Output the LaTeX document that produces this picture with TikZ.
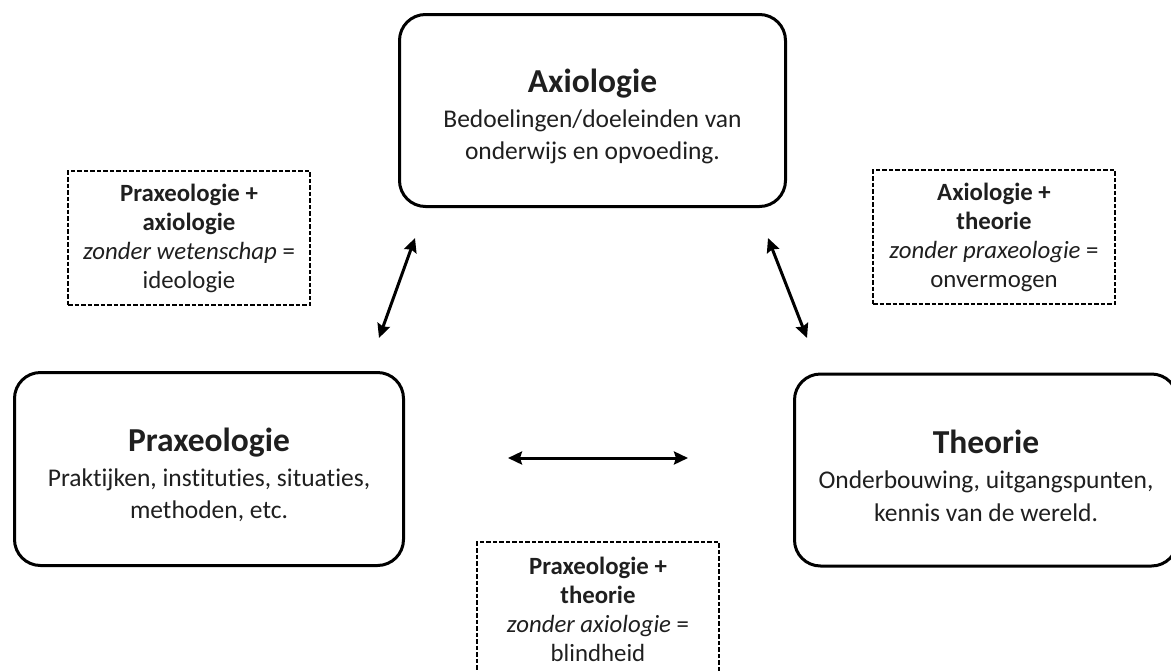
\documentclass[tikz,border=0pt]{standalone}
\usepackage{fontspec}
\setmainfont{Carlito}[Ligatures={NoCommon,NoRare}]
\usepackage{tikz}
\usetikzlibrary{arrows.meta, positioning}
\colorlet{colorText}{black!88}
\tikzset{
  boxMain/.style={draw, rounded corners=26pt, line width=3pt, align=center,
    text=colorText, inner sep=0pt, font=\fontsize{25.5}{32.5}\selectfont},
  boxNote/.style={draw, dash pattern=on 4.5pt off 2pt, line width=2pt, align=center,
    text=colorText, inner sep=0pt, minimum width=242pt, minimum height=134pt,
    font=\fontsize{24.8}{29}\selectfont},
  linkArrow/.style={{Stealth[length=14pt,width=13pt,inset=2pt]}-{Stealth[length=14pt,width=13pt,inset=2pt]}, line width=3pt}
}
\newcommand{\boxTitle}[1]{{\fontsize{33.5}{36}\selectfont\bfseries\rule{0pt}{35pt}#1}}

\begin{document}
\begin{tikzpicture}[x=1pt, y=-1pt]
\useasboundingbox (0,0) rectangle (1171,670);
\node[boxMain, minimum width=386pt, minimum height=192pt] (axio) at (592.5,110.5)
  {\boxTitle{Axiologie}\\[2.5pt]Bedoelingen/doeleinden van\\onderwijs en opvoeding.};
\node[boxMain, minimum width=389pt, minimum height=193pt] (praxeo) at (209,469)
  {\boxTitle{Praxeologie}\\[2.5pt]Praktijken, instituties, situaties,\\methoden, etc.};
\node[boxMain, minimum width=383pt, minimum height=192pt] (theorie) at (986,470)
  {\boxTitle{Theorie}\\[2.5pt]Onderbouwing, uitgangspunten,\\kennis van de wereld.};
% dashed notes
\node[boxNote] (praxAxio) at (189,238)
  {\textbf{Praxeologie +}\\\textbf{axiologie}\\\textit{zonder wetenschap} =\\ideologie};
\node[boxNote] (axioTheorie) at (994,237)
  {\textbf{Axiologie +}\\\textbf{theorie}\\\textit{zonder praxeologie} =\\onvermogen};
\node[boxNote] (praxTheorie) at (598,609)
  {\textbf{Praxeologie +}\\\textbf{theorie}\\\textit{zonder axiologie} =\\blindheid};
% arrow ends
\coordinate (l1) at (379,338);
\coordinate (l2) at (415,238);
\coordinate (r1) at (768,238);
\coordinate (r2) at (807,338);
\coordinate (m1) at (508,458);
\coordinate (m2) at (688,458);
\draw[linkArrow] (l1) -- (l2);
\draw[linkArrow] (r1) -- (r2);
\draw[linkArrow] (m1) -- (m2);
\end{tikzpicture}
\end{document}
